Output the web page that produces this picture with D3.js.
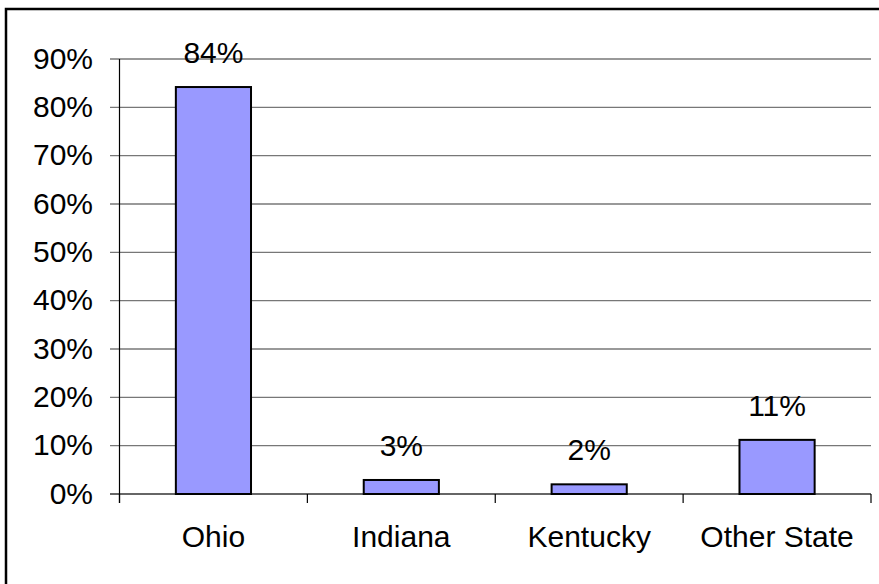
<!DOCTYPE html>
<html>
<head>
<meta charset="utf-8">
<script src="https://cdn.jsdelivr.net/npm/d3@7"></script>
<style>
  html, body { margin: 0; padding: 0; background: #fff; }
  svg { display: block; }
  text { font-family: "Liberation Sans", Arial, sans-serif; fill: #000; }
</style>
</head>
<body>
<svg id="chart" width="879" height="584"></svg>
<script>
const categories = ["Ohio", "Indiana", "Kentucky", "Other State"];
const values = [0.842, 0.029, 0.020, 0.112];
const valueLabels = ["84%", "3%", "2%", "11%"];
const yTicks = [0, 0.1, 0.2, 0.3, 0.4, 0.5, 0.6, 0.7, 0.8, 0.9];

const svg = d3.select("#chart");
const W = 879, H = 584;
const plot = { left: 119.5, right: 871, top: 59, bottom: 494 };
const fontSize = 30;

// outer border (right/bottom are outside the picture)
svg.append("rect")
  .attr("x", 6).attr("y", 9)
  .attr("width", W + 10).attr("height", H + 10)
  .attr("fill", "#fff").attr("stroke", "#000").attr("stroke-width", 2.5);

const y = d3.scaleLinear().domain([0, 0.9]).range([plot.bottom, plot.top]);
const x = d3.scaleBand().domain(categories)
  .range([plot.left, plot.right])
  .paddingInner(0.6).paddingOuter(0.3);

// gridlines (including outward tick)
svg.append("g").selectAll("line").data(yTicks).join("line")
  .attr("x1", plot.left - 9.5).attr("x2", plot.right)
  .attr("y1", d => y(d)).attr("y2", d => y(d))
  .attr("stroke", d => d === 0 ? "#333" : "#777")
  .attr("stroke-width", 1.3);

// y axis labels
svg.append("g").selectAll("text").data(yTicks).join("text")
  .attr("x", 93).attr("y", d => y(d) + 9.5)
  .attr("text-anchor", "end")
  .attr("font-size", fontSize)
  .text(d => d3.format(".0%")(d));

// y axis line
svg.append("line")
  .attr("x1", plot.left).attr("x2", plot.left)
  .attr("y1", plot.top).attr("y2", plot.bottom + 9)
  .attr("stroke", "#000").attr("stroke-width", 1.2);

// x category boundary ticks
const step = x.step();
const boundaries = categories.map(c => x(c) - (step - x.bandwidth()) / 2).concat([plot.right]);
svg.append("g").selectAll("line").data(boundaries).join("line")
  .attr("x1", d => d).attr("x2", d => d)
  .attr("y1", plot.bottom).attr("y2", plot.bottom + 9)
  .attr("stroke", "#000").attr("stroke-width", 1.2);

// bars
svg.append("g").selectAll("rect").data(categories).join("rect")
  .attr("x", c => x(c))
  .attr("y", (c, i) => y(values[i]))
  .attr("width", x.bandwidth())
  .attr("height", (c, i) => y(0) - y(values[i]))
  .attr("fill", "#9999FF")
  .attr("stroke", "#000").attr("stroke-width", 2);

// value labels
svg.append("g").selectAll("text").data(categories).join("text")
  .attr("x", c => x(c) + x.bandwidth() / 2)
  .attr("y", (c, i) => y(values[i]) - 24)
  .attr("text-anchor", "middle")
  .attr("font-size", fontSize)
  .text((c, i) => valueLabels[i]);

// x category labels
svg.append("g").selectAll("text").data(categories).join("text")
  .attr("x", c => x(c) + x.bandwidth() / 2)
  .attr("y", 547)
  .attr("text-anchor", "middle")
  .attr("font-size", fontSize)
  .text(c => c);
</script>
</body>
</html>
